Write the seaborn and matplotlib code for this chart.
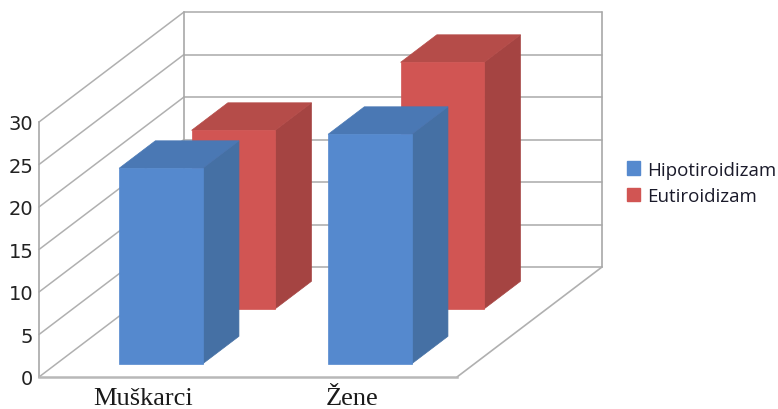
import matplotlib
matplotlib.use("Agg")
import matplotlib.pyplot as plt
from matplotlib.patches import Patch, Polygon
import pandas as pd
import seaborn as sns

# Survey counts per group and thyroid status
groups = ["Muškarci", "Žene"]
hipotiroidizam = [23, 27]
eutiroidizam = [21, 29]
y_ticks = [0, 5, 10, 15, 20, 25, 30]
series_names = ["Hipotiroidizam", "Eutiroidizam"]

# Face colours of the extruded columns: front, side, top
BLUE = ("#5589CE", "#4570A4", "#4A78B4")
RED = ("#D15553", "#A54442", "#B54C49")
GRID = "#B0B0B0"

# Oblique projection: the full floor depth, expressed in data units
DEPTH_DX = 145 / 209
DEPTH_DY = 110 / 8.5
COLUMN_DEPTH = 0.25
X_MIN, X_MAX = -0.5, 1.5
Y_MIN, Y_MAX = 0, 30

sns.set_theme(style="white")
plt.rcParams["font.family"] = ["DejaVu Sans"]

fig = plt.figure(figsize=(7.78, 4.10), dpi=100)
ax = fig.add_axes([39 / 778, 32 / 410, 418 / 778, 255 / 410])


def project(x, y, t):
    """Place a point of the box on the chart plane, t being its floor depth."""
    return (x + t * DEPTH_DX, y + t * DEPTH_DY)


def extrude(values, colors, depth, order):
    frame = pd.DataFrame({"grupa": groups, "broj": values})
    already = len(ax.patches)
    sns.barplot(data=frame, x="grupa", y="broj", color=colors[0], saturation=1,
                width=0.4, ax=ax, zorder=order + 0.2)
    for bar in list(ax.patches[already:]):
        x0, x1 = bar.get_x(), bar.get_x() + bar.get_width()
        top = bar.get_height()
        rear = depth + COLUMN_DEPTH

        # Same-colour edges close the antialiasing seams between faces
        side = [project(x1, 0, depth), project(x1, 0, rear),
                project(x1, top, rear), project(x1, top, depth)]
        roof = [project(x0, top, depth), project(x1, top, depth),
                project(x1, top, rear), project(x0, top, rear)]
        ax.add_patch(Polygon(side, facecolor=colors[1], edgecolor=colors[1],
                             linewidth=0.5, clip_on=False, zorder=order))
        ax.add_patch(Polygon(roof, facecolor=colors[2], edgecolor=colors[2],
                             linewidth=0.5, clip_on=False, zorder=order + 0.1))

        bar.set_xy(project(x0, 0, depth))
        bar.set_edgecolor(colors[0])
        bar.set_linewidth(0.5)
        bar.set_clip_on(False)


extrude(eutiroidizam, RED, 0.62, 3)
extrude(hipotiroidizam, BLUE, 0.12, 4)
ax.set_xlim(X_MIN, X_MAX)
ax.set_ylim(Y_MIN, Y_MAX)


def wall_line(p, q, color=GRID, lw=1.2, order=1):
    ax.plot([p[0], q[0]], [p[1], q[1]], color=color, lw=lw, clip_on=False, zorder=order)


# Back wall gridlines and the diagonals of the left wall
for v in y_ticks:
    wall_line(project(X_MIN, v, 1), project(X_MAX, v, 1))
    wall_line(project(X_MIN, v, 0), project(X_MIN, v, 1), lw=1.1)
for edge in (X_MIN, X_MAX):
    wall_line(project(edge, Y_MIN, 1), project(edge, Y_MAX, 1), color="#A8A8A8", order=1.1)
wall_line(project(X_MAX, Y_MIN, 0), project(X_MAX, Y_MIN, 1))

sns.despine(ax=ax, top=True, right=True)
ax.spines["left"].set_color("#A8A8A8")
ax.spines["left"].set_linewidth(1.2)
ax.spines["bottom"].set_color("#B8B8B8")
ax.spines["bottom"].set_linewidth(1.8)

ax.set_xlabel("")
ax.set_ylabel("")
ax.set_yticks(y_ticks)
ax.set_xticks(range(len(groups)))
ax.set_xticklabels(groups, family="Liberation Serif", fontsize=19, color="#1A1A1A")
ax.tick_params(axis="x", length=0, pad=7.5)
ax.tick_params(axis="y", length=0, pad=4, labelsize=14, labelcolor="#222222")

ax.legend(
    handles=[Patch(color=BLUE[0], label=series_names[0]),
             Patch(color=RED[0], label=series_names[1])],
    loc="center left", bbox_to_anchor=(627 / 778, 1 - 184 / 410),
    bbox_transform=fig.transFigure, frameon=False,
    handlelength=0.7, handleheight=0.7, handletextpad=0.37, labelspacing=0.47,
    borderpad=0, borderaxespad=0, labelcolor="#1A1A2A",
    prop={"family": "Open Sans", "size": 13.5},
)

fig.savefig("out.png", dpi=100)
